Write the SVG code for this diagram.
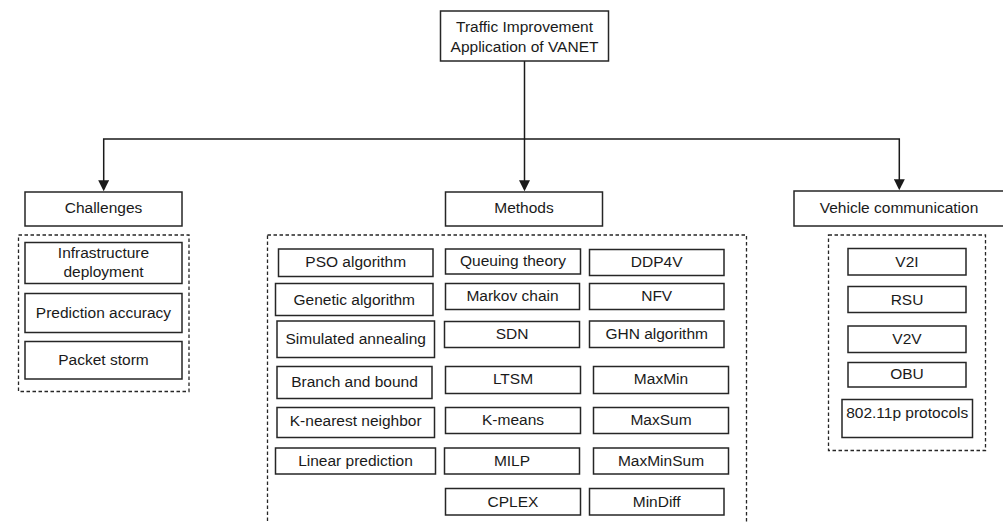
<svg xmlns="http://www.w3.org/2000/svg" width="1003" height="523" viewBox="0 0 1003 523">
<style>
.b{fill:#fff;stroke:#262626;stroke-width:1.5}
.d{fill:none;stroke:#262626;stroke-width:1.3;stroke-dasharray:3.5 2.5}
.c{fill:none;stroke:#1a1a1a;stroke-width:1.5}
text{font-family:"Liberation Sans",Arial,sans-serif;font-size:15.5px;fill:#1a1a1a;text-anchor:middle}
</style>
<defs>
<marker id="ah" markerUnits="userSpaceOnUse" markerWidth="11" markerHeight="11" viewBox="0 0 10 10" refX="8" refY="5" orient="auto">
<path d="M0,0 L10,5 L0,10 z" fill="#1a1a1a"/>
</marker>
</defs>
<rect width="1003" height="523" fill="#fff"/>
<g id="containers">
<rect class="d" x="18.5" y="235" width="170.5" height="156.5"/>
<rect class="d" x="267.5" y="235" width="479" height="300"/>
<rect class="d" x="828.5" y="235" width="157" height="215.5"/>
</g>
<g id="connectors">
<path class="c" d="M524.5 61 V189" marker-end="url(#ah)"/>
<path class="c" d="M524.5 139 H103.7 V189" marker-end="url(#ah)"/>
<path class="c" d="M524.5 139 H899.3 V188" marker-end="url(#ah)"/>
</g>
<g id="root"><rect class="b" x="440.5" y="11" width="168" height="50"/><text x="524.5" y="31.7">Traffic Improvement</text><text x="524.5" y="51.7">Application of VANET</text></g>
<g id="challenges"><rect class="b" x="25" y="192" width="157" height="34"/><text x="103.5" y="213.3">Challenges</text></g>
<g id="methods"><rect class="b" x="445.5" y="192" width="157" height="34"/><text x="524" y="213.3">Methods</text></g>
<g id="vehicle-communication"><rect class="b" x="794" y="191" width="211" height="35"/><text x="899" y="213.3">Vehicle communication</text></g>
<g id="infrastructure"><rect class="b" x="25" y="242.5" width="157" height="41"/><text x="103.5" y="258.3">Infrastructure</text><text x="103.5" y="276.5">deployment</text></g>
<g id="prediction"><rect class="b" x="25" y="293.5" width="157" height="39"/><text x="103.5" y="318.3">Prediction accuracy</text></g>
<g id="packet"><rect class="b" x="25" y="341.5" width="157" height="37.5"/><text x="103.5" y="365">Packet storm</text></g>
<g id="pso"><rect class="b" x="278.5" y="249" width="154.5" height="27.5"/><text x="355.7" y="266.7">PSO algorithm</text></g>
<g id="genetic"><rect class="b" x="275.5" y="283.5" width="157.5" height="32"/><text x="354.3" y="304.7">Genetic algorithm</text></g>
<g id="simulated"><rect class="b" x="277" y="321" width="157.5" height="36.5"/><text x="355.7" y="344">Simulated annealing</text></g>
<g id="branch"><rect class="b" x="277" y="366.5" width="155" height="32"/><text x="354.5" y="386.7">Branch and bound</text></g>
<g id="knn"><rect class="b" x="277" y="407.5" width="157.5" height="30"/><text x="355.7" y="426">K-nearest neighbor</text></g>
<g id="linear"><rect class="b" x="275.5" y="448" width="160" height="26"/><text x="355.5" y="465.7">Linear prediction</text></g>
<g id="queuing"><rect class="b" x="445.5" y="249" width="135" height="25"/><text x="513" y="265.7">Queuing theory</text></g>
<g id="markov"><rect class="b" x="445.5" y="283.5" width="134" height="26"/><text x="512.5" y="300.7">Markov chain</text></g>
<g id="sdn"><rect class="b" x="444.5" y="321.5" width="135" height="26"/><text x="512" y="339">SDN</text></g>
<g id="ltsm"><rect class="b" x="445.5" y="366.5" width="135" height="27"/><text x="513" y="384.3">LTSM</text></g>
<g id="kmeans"><rect class="b" x="445.5" y="407.5" width="135" height="26"/><text x="513" y="425">K-means</text></g>
<g id="milp"><rect class="b" x="444.5" y="448" width="135" height="26"/><text x="512" y="465.7">MILP</text></g>
<g id="cplex"><rect class="b" x="445.5" y="488.5" width="135" height="26.5"/><text x="513" y="506.7">CPLEX</text></g>
<g id="ddp4v"><rect class="b" x="589.5" y="249.5" width="134.5" height="26"/><text x="656.7" y="266.7">DDP4V</text></g>
<g id="nfv"><rect class="b" x="589.5" y="283.5" width="134.5" height="26"/><text x="656.7" y="300.7">NFV</text></g>
<g id="ghn"><rect class="b" x="589.5" y="321" width="134.5" height="26.5"/><text x="656.7" y="339">GHN algorithm</text></g>
<g id="maxmin"><rect class="b" x="593.5" y="366.5" width="135" height="27"/><text x="661" y="384.3">MaxMin</text></g>
<g id="maxsum"><rect class="b" x="593.5" y="407.5" width="135" height="26"/><text x="661" y="425">MaxSum</text></g>
<g id="maxminsum"><rect class="b" x="593.5" y="448" width="135" height="26"/><text x="661" y="465.7">MaxMinSum</text></g>
<g id="mindiff"><rect class="b" x="589.5" y="488.5" width="134.5" height="26.5"/><text x="656.7" y="506.7">MinDiff</text></g>
<g id="v2i"><rect class="b" x="848" y="248.5" width="118" height="26.5"/><text x="907" y="266.7">V2I</text></g>
<g id="rsu"><rect class="b" x="848" y="286.5" width="118" height="26"/><text x="907" y="305">RSU</text></g>
<g id="v2v"><rect class="b" x="848" y="326" width="118" height="26.5"/><text x="907" y="344.3">V2V</text></g>
<g id="obu"><rect class="b" x="848" y="362.5" width="118" height="24.5"/><text x="907" y="379.3">OBU</text></g>
<g id="protocols"><rect class="b" x="842" y="399.5" width="130.5" height="38"/><text x="907.2" y="418.3">802.11p protocols</text></g>
</svg>
